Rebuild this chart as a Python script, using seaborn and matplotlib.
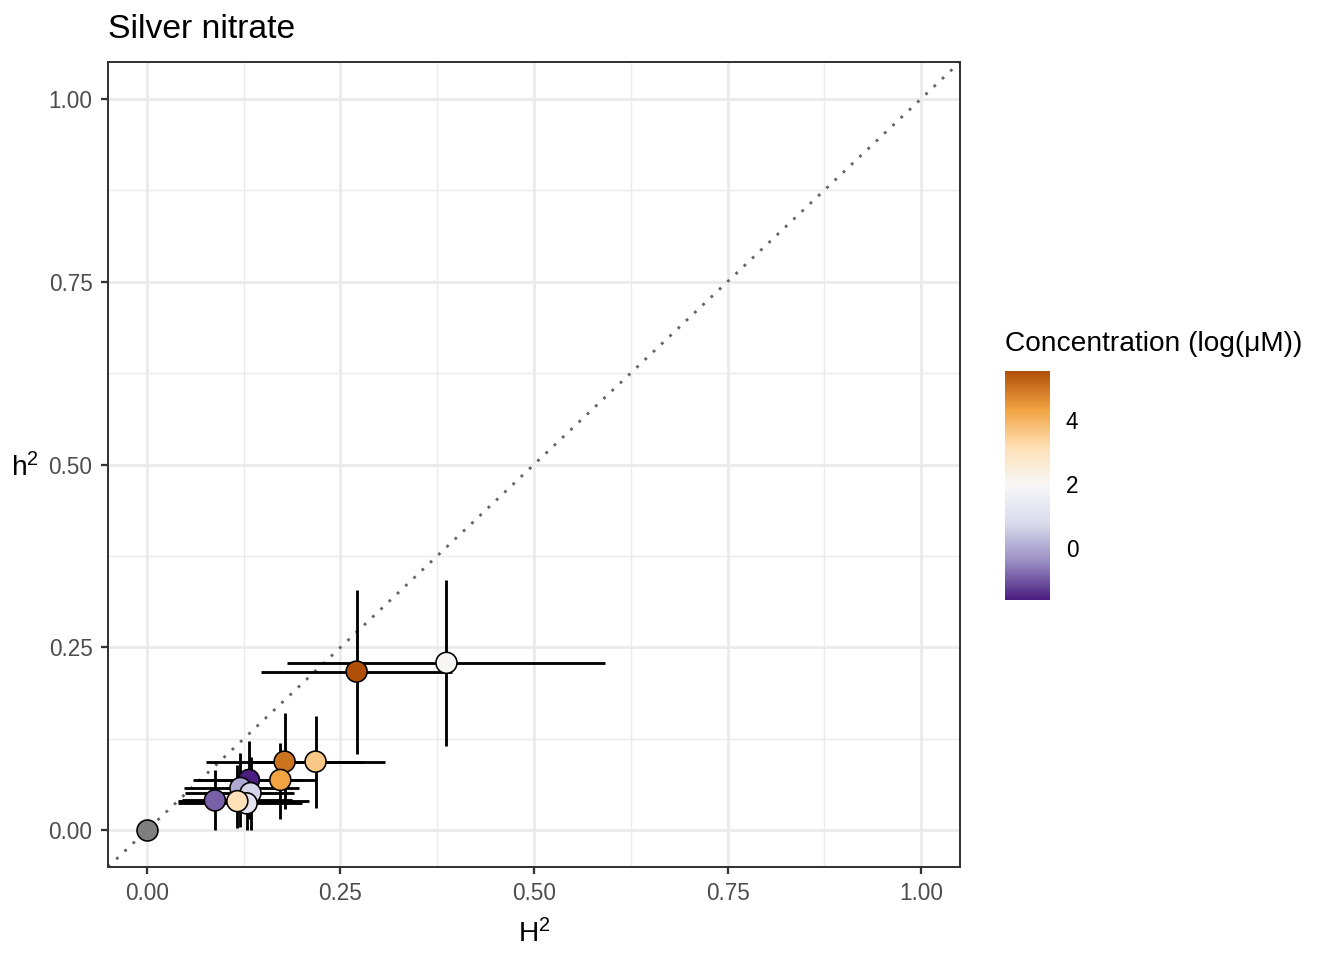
import numpy as np
import pandas as pd
import matplotlib
matplotlib.use("Agg")
import matplotlib.pyplot as plt
import seaborn as sns
from matplotlib.colors import LinearSegmentedColormap, Normalize
from matplotlib.cm import ScalarMappable

# data
H2 = [0.000, 0.271, 0.387, 0.178, 0.218, 0.1725, 0.132, 0.121, 0.134, 0.129, 0.117, 0.088]
h2 = [0.000, 0.217, 0.229, 0.094, 0.094, 0.069, 0.069, 0.058, 0.051, 0.037, 0.040, 0.041]
H2_lo = [0.000, 0.147, 0.181, 0.077, 0.130, 0.066, 0.060, 0.048, 0.050, 0.040, 0.040, 0.046]
H2_hi = [0.000, 0.394, 0.592, 0.279, 0.307, 0.219, 0.200, 0.197, 0.190, 0.200, 0.210, 0.187]
h2_lo = [0.000, 0.104, 0.115, 0.029, 0.030, 0.016, 0.015, 0.004, 0.000, 0.000, 0.003, 0.000]
h2_hi = [0.000, 0.329, 0.342, 0.160, 0.157, 0.120, 0.122, 0.106, 0.100, 0.080, 0.090, 0.083]
conc = [np.nan, 5.52, 2.0, 5.0, 3.6, 4.3, -1.61, 0.0, 0.7, 1.2, 3.1, -0.9]

df = pd.DataFrame({"H2": H2, "h2": h2, "H2_lo": H2_lo, "H2_hi": H2_hi,
                   "h2_lo": h2_lo, "h2_hi": h2_hi, "conc": conc})

sns.set_theme(style="white")
plt.rcParams["font.family"] = ["Liberation Sans", "DejaVu Sans"]
plt.rcParams["mathtext.fontset"] = "custom"
plt.rcParams["mathtext.rm"] = "Liberation Sans"
plt.rcParams["mathtext.it"] = "Liberation Sans"
plt.rcParams["text.color"] = "black"
plt.rcParams["axes.labelcolor"] = "black"

# brewer PuOr (7 class), purple low -> orange high
puor = ["#4b1d80", "#998ec3", "#d8daeb", "#f7f7f7", "#fee0b6", "#f1a340", "#b05008"]
cmap = LinearSegmentedColormap.from_list("puor", puor)
norm = Normalize(vmin=-1.61, vmax=5.52)

k = 1.28  # text/line scale
lw = 1.42
fs_title, fs_lab, fs_tick = 13.2 * k, 11 * k, 8.8 * k

fig = plt.figure(figsize=(1344 / 144, 960 / 144), dpi=144)
ax = fig.add_axes([108 / 1344, 93 / 960, 852 / 1344, 805 / 960])

# grid like theme_bw
for v in [0, 0.25, 0.5, 0.75, 1.0]:
    ax.axhline(v, color="#ebebeb", lw=lw, zorder=0)
    ax.axvline(v, color="#ebebeb", lw=lw, zorder=0)
for v in [0.125, 0.375, 0.625, 0.875]:
    ax.axhline(v, color="#ebebeb", lw=lw / 2, zorder=0)
    ax.axvline(v, color="#ebebeb", lw=lw / 2, zorder=0)

ax.axline((0, 0), slope=1, color="#666666", lw=lw, linestyle=(0, (1, 3)), zorder=1)

err = df.dropna()
ax.errorbar(err["H2"], err["h2"],
            xerr=[err["H2"] - err["H2_lo"], err["H2_hi"] - err["H2"]],
            yerr=[err["h2"] - err["h2_lo"], err["h2_hi"] - err["h2"]],
            fmt="none", ecolor="black", elinewidth=lw, capsize=0, zorder=2)

na = df[df["conc"].isna()]
sns.scatterplot(data=na, x="H2", y="h2", color="#7f7f7f", s=110,
                edgecolor="black", linewidth=0.8, ax=ax, zorder=3, legend=False)
sns.scatterplot(data=err, x="H2", y="h2", hue="conc", palette=cmap, hue_norm=norm,
                s=110, edgecolor="black", linewidth=0.8, ax=ax, zorder=3, legend=False)

ax.set_xlim(-0.05, 1.05)
ax.set_ylim(-0.05, 1.05)
ticks = [0, 0.25, 0.5, 0.75, 1.0]
ax.set_xticks(ticks)
ax.set_yticks(ticks)
ax.set_xticklabels(["0.00", "0.25", "0.50", "0.75", "1.00"])
ax.set_yticklabels(["0.00", "0.25", "0.50", "0.75", "1.00"])
ax.tick_params(axis="both", direction="out", length=2.75 * k, width=lw * 0.8, color="#333333",
               labelcolor="#4d4d4d", labelsize=fs_tick, pad=4.2, bottom=True, left=True)
for sp in ax.spines.values():
    sp.set_color("#333333")
    sp.set_linewidth(lw * 0.7)

ax.set_xlabel("H$^2$", fontsize=fs_lab, labelpad=7)
ax.set_ylabel("")
fig.text(25 / 1344, 1 - 468 / 960, "h$^2$", fontsize=fs_lab, ha="center", va="center")
fig.text(108 / 1344, 1 - 29 / 960, "Silver nitrate", fontsize=fs_title, ha="left", va="center")

# colour bar
cax = fig.add_axes([1005 / 1344, 360 / 960, 45 / 1344, 229 / 960])
cb = fig.colorbar(ScalarMappable(norm=norm, cmap=cmap), cax=cax)
cb.outline.set_visible(False)
cb.set_ticks([0, 2, 4])
cax.tick_params(direction="in", length=4.5, width=0.8, colors="white", labelcolor="black",
                labelsize=fs_tick, left=True, right=True, labelleft=False, labelright=True, pad=8)
cax.set_title("Concentration (log(μM))", loc="left", fontsize=fs_lab, pad=10)

fig.savefig("out.png", dpi=144)
